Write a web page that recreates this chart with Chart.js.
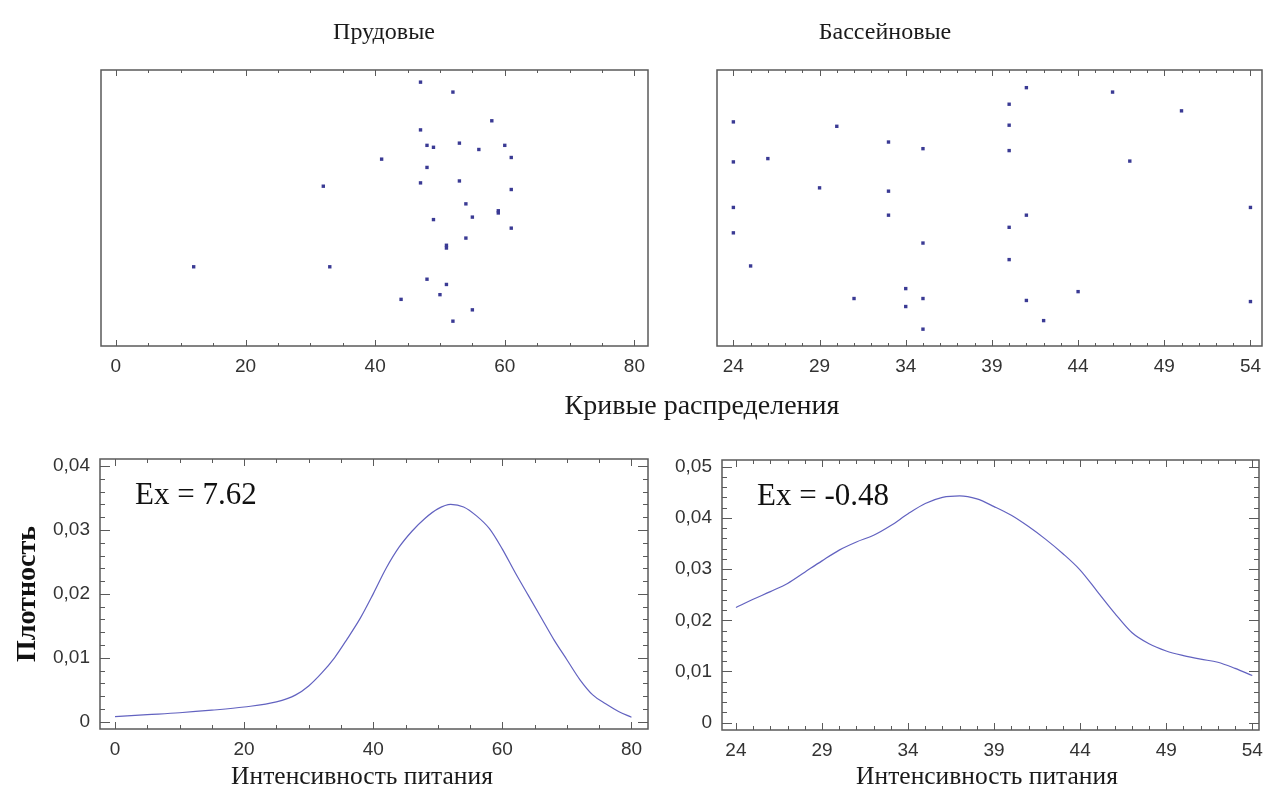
<!DOCTYPE html>
<html>
<head>
<meta charset="utf-8">
<script src="https://cdn.jsdelivr.net/npm/chart.js@4.4.1/dist/chart.umd.min.js"></script>
<style>
    html, body { margin: 0; padding: 0; background: #fff; }
    #page { position: relative; width: 1264px; height: 803px; overflow: hidden; }
    canvas { position: absolute; }
    .head {
        position: absolute;
        font-family: "Liberation Serif", "Times New Roman", serif;
        color: #1a1a1a;
        white-space: nowrap;
        line-height: 1;
        transform: translateX(-50%);
    }
</style>
</head>
<body>
<div id="page">
    <canvas id="pondScatter" width="660" height="400" style="left:0; top:0;"></canvas>
    <canvas id="poolScatter" width="640" height="400" style="left:660px; top:0;"></canvas>
    <canvas id="pondDensity" width="660" height="413" style="left:0; top:390px;"></canvas>
    <canvas id="poolDensity" width="640" height="413" style="left:660px; top:390px;"></canvas>

    <div class="head" style="left:384px; top:19px; font-size:24px;">Прудовые</div>
    <div class="head" style="left:885px; top:19px; font-size:24px;">Бассейновые</div>
    <div class="head" style="left:702px; top:391px; font-size:28px;">Кривые распределения</div>
    <div class="head" style="left:362px; top:763px; font-size:25.5px;">Интенсивность питания</div>
    <div class="head" style="left:987px; top:763px; font-size:25.5px;">Интенсивность питания</div>
</div>

<script>
// ---- data ----

// dot plot, ponds (y is only the vertical jitter of each dot, 0..1)
const pondX = [12, 32, 33, 41, 44, 47, 47, 47, 48, 48, 48, 49, 49, 50, 51, 51, 51,
               52, 52, 53, 53, 54, 54, 55, 55, 56, 58, 59, 59, 60, 61, 61, 61];
const pondY = [0.287, 0.579, 0.287, 0.677, 0.169, 0.956, 0.783, 0.591, 0.727, 0.647, 0.242,
               0.720, 0.458, 0.186, 0.365, 0.355, 0.223, 0.920, 0.090, 0.735, 0.598, 0.515,
               0.391, 0.467, 0.131, 0.712, 0.816, 0.490, 0.482, 0.727, 0.683, 0.567, 0.427];

// dot plot, pools
const poolX = [24, 24, 24, 24, 25, 26, 29, 30, 31, 33, 33, 33, 34, 34, 35, 35, 35, 35,
               40, 40, 40, 40, 40, 41, 41, 41, 42, 44, 46, 47, 50, 54, 54];
const poolY = [0.812, 0.667, 0.502, 0.410, 0.290, 0.679, 0.573, 0.796, 0.172, 0.739, 0.561,
               0.474, 0.208, 0.143, 0.715, 0.373, 0.172, 0.061, 0.876, 0.800, 0.708, 0.430,
               0.313, 0.936, 0.474, 0.165, 0.092, 0.197, 0.920, 0.670, 0.852, 0.502, 0.161];

// density curves
const pondCurveX = [0, 5, 10, 15, 20, 25, 28, 30, 32, 34, 36, 38, 40, 42, 44, 46, 48, 50,
                    52, 54, 56, 58, 60, 62, 64, 66, 68, 70, 72, 74, 76, 78, 80];
const pondCurveY = [0.0008, 0.0011, 0.0014, 0.0018, 0.0023, 0.0031, 0.0042, 0.0056, 0.0076,
                    0.0100, 0.0130, 0.0162, 0.0200, 0.0240, 0.0273, 0.0298, 0.0318, 0.0333,
                    0.0340, 0.0336, 0.0322, 0.0302, 0.0270, 0.0233, 0.0198, 0.0163, 0.0128,
                    0.0097, 0.0066, 0.0042, 0.0028, 0.0016, 0.0007];

const poolCurveX = [24, 25, 26, 27, 28, 29, 30, 31, 32, 33, 34, 35, 36, 37, 38, 39, 40,
                    41, 42, 43, 44, 45, 46, 47, 48, 49, 50, 51, 52, 53, 54];
const poolCurveY = [0.0225, 0.0241, 0.0256, 0.0272, 0.0294, 0.0316, 0.0337, 0.0353, 0.0366,
                    0.0385, 0.0408, 0.0428, 0.0440, 0.0443, 0.0437, 0.0422, 0.0405, 0.0383,
                    0.0358, 0.0330, 0.0298, 0.0256, 0.0214, 0.0176, 0.0154, 0.0140, 0.0131,
                    0.0124, 0.0118, 0.0106, 0.0092];

// tick labels
const pondTicks = [0, 20, 40, 60, 80];
const poolTicks = [24, 29, 34, 39, 44, 49, 54];
const pondDensityTicks = [0, 0.01, 0.02, 0.03, 0.04];
const poolDensityTicks = [0, 0.01, 0.02, 0.03, 0.04, 0.05];

const pondNote = 'Ex = 7.62';
const poolNote = 'Ex = -0.48';

// ---- styling ----
const SERIF = '"Liberation Serif", "Times New Roman", serif';
const tickFont = { family: '"Liberation Sans", Arial, sans-serif', size: 19 };
const tickColor = '#333';

const toPoints = (xs, ys) => xs.map((x, i) => ({ x, y: ys[i] }));
const fixTicks = values => scale => { scale.ticks = values.map(v => ({ value: v })); };
const comma = v => (v === 0 ? '0' : v.toFixed(2).replace('.', ','));

// inward tick marks on both sides of an axis
function drawMarks(ctx, scale, m, area, horizontal) {
    const first = Math.ceil(scale.min / m.minor - 1e-9);
    const last = Math.floor(scale.max / m.minor + 1e-9);
    ctx.beginPath();
    for (let i = first; i <= last; i++) {
        const v = i * m.minor;
        const major = m.ticks.some(t => Math.abs(t - v) < m.minor / 100);
        const len = major ? m.long : m.short;
        const p = Math.round(scale.getPixelForValue(v)) + 0.5;
        if (horizontal) {
            ctx.moveTo(p, area.bottom); ctx.lineTo(p, area.bottom - len);
            ctx.moveTo(p, area.top); ctx.lineTo(p, area.top + len);
        } else {
            ctx.moveTo(area.left, p); ctx.lineTo(area.left + len, p);
            ctx.moveTo(area.right, p); ctx.lineTo(area.right - len, p);
        }
    }
    ctx.stroke();
}

// box round the plot area, tick marks and the Ex note
const framePlugin = {
    id: 'frame',
    afterDatasetsDraw(chart, args, opts) {
        const { ctx, chartArea: a } = chart;
        ctx.save();
        ctx.strokeStyle = '#5a5a5a';
        ctx.lineWidth = 1;
        if (opts.x) drawMarks(ctx, chart.scales.x, opts.x, a, true);
        if (opts.y) drawMarks(ctx, chart.scales.y, opts.y, a, false);
        ctx.lineWidth = 1.5;
        ctx.strokeRect(a.left, a.top, a.right - a.left, a.bottom - a.top);
        if (opts.note) {
            ctx.fillStyle = '#111';
            ctx.font = '31px ' + SERIF;
            ctx.textBaseline = 'alphabetic';
            ctx.textAlign = 'left';
            ctx.fillText(opts.note, a.left + 35, a.top + 45);
        }
        ctx.restore();
    }
};

function xAxis(ticks, min, max, height) {
    return {
        type: 'linear', min, max,
        afterBuildTicks: fixTicks(ticks),
        afterFit: s => { s.height = height; },
        grid: { display: false, drawTicks: false },
        border: { display: false },
        ticks: { font: tickFont, color: tickColor, padding: 9, maxRotation: 0, autoSkip: false }
    };
}

function dotPlot(id, xs, ys, ticks, minor, min, max, padding) {
    return new Chart(document.getElementById(id), {
        type: 'scatter',
        data: {
            datasets: [{
                data: toPoints(xs, ys),
                pointStyle: 'rect',
                pointRadius: 2.4,
                backgroundColor: '#3a3a94',
                borderWidth: 0
            }]
        },
        options: {
            responsive: false,
            animation: false,
            events: [],
            layout: { padding },
            plugins: {
                legend: { display: false },
                tooltip: { enabled: false },
                frame: { x: { ticks, minor, long: 6, short: 3 } }
            },
            scales: {
                x: xAxis(ticks, min, max, 54),
                y: { display: false, min: 0, max: 1 }
            }
        },
        plugins: [framePlugin]
    });
}

function densityPlot(id, xs, ys, xTicks, xMinor, xMin, xMax, yTicks, yMin, yMax, yWidth, padding, note, yTitle) {
    return new Chart(document.getElementById(id), {
        type: 'scatter',
        data: {
            datasets: [{
                data: toPoints(xs, ys),
                showLine: true,
                pointRadius: 0,
                borderColor: '#6262c0',
                borderWidth: 1.2,
                cubicInterpolationMode: 'monotone'
            }]
        },
        options: {
            responsive: false,
            animation: false,
            events: [],
            layout: { padding },
            plugins: {
                legend: { display: false },
                tooltip: { enabled: false },
                frame: {
                    note,
                    x: { ticks: xTicks, minor: xMinor, long: 7, short: 4 },
                    y: { ticks: yTicks, minor: 0.002, long: 10, short: 5 }
                }
            },
            scales: {
                x: xAxis(xTicks, xMin, xMax, yWidth === 100 ? 74 : 73),
                y: {
                    type: 'linear', min: yMin, max: yMax,
                    afterBuildTicks: fixTicks(yTicks),
                    afterFit: s => { s.width = yWidth; },
                    grid: { display: false, drawTicks: false },
                    border: { display: false },
                    ticks: { font: tickFont, color: tickColor, padding: 10, callback: comma },
                    title: {
                        display: yTitle,
                        text: 'Плотность',
                        color: '#111',
                        font: { family: SERIF, size: 28, weight: 'bold' },
                        padding: { top: 11, bottom: 0 }
                    }
                }
            }
        },
        plugins: [framePlugin]
    });
}

// the right-hand canvases run past the page edge so the last tick label
// may hang over the frame the way it does in the reference
dotPlot('pondScatter', pondX, pondY, pondTicks, 5, -2.3, 82.1,
        { left: 101, right: 12, top: 70, bottom: 0 });
dotPlot('poolScatter', poolX, poolY, poolTicks, 1, 23.05, 54.67,
        { left: 57, right: 38, top: 70, bottom: 0 });

densityPlot('pondDensity', pondCurveX, pondCurveY, pondTicks, 5, -2.32, 82.56,
            pondDensityTicks, -0.00114, 0.0411, 100,
            { left: 0, right: 12, top: 69, bottom: 0 }, pondNote, true);
densityPlot('poolDensity', poolCurveX, poolCurveY, poolTicks, 1, 23.19, 54.39,
            poolDensityTicks, -0.00143, 0.0513, 62,
            { left: 0, right: 41, top: 70, bottom: 0 }, poolNote, false);
</script>
</body>
</html>
